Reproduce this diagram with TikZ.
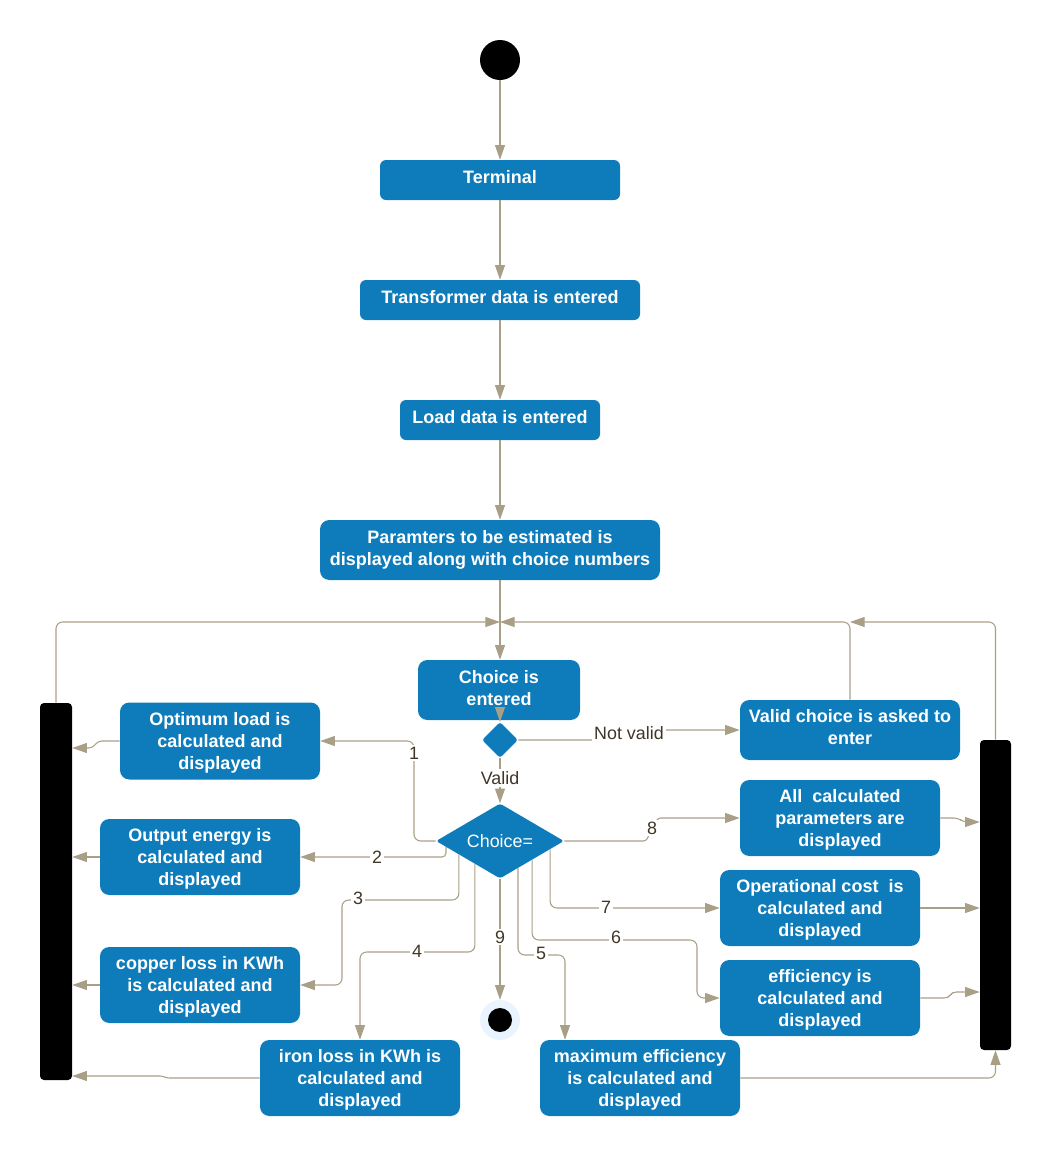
\documentclass[tikz,border=0pt]{standalone}
\usepackage{fontspec}
\setmainfont{Liberation Sans}
\usetikzlibrary{arrows.meta,shapes.geometric,calc}

\definecolor{boxblue}{RGB}{14,124,186}
\definecolor{wire}{RGB}{168,159,134}
\definecolor{labeltext}{RGB}{64,54,40}
\definecolor{haloblue}{RGB}{234,244,254}

\newcommand\actfont{\bfseries\fontsize{13.5}{16.5}\selectfont}
\newcommand\tagfont{\fontsize{13.4}{16.5}\selectfont}

\begin{document}
\begin{tikzpicture}[x=0.75pt,y=-0.75pt,
  every node/.style={inner sep=0pt},
  act/.style 2 args={rectangle, fill=boxblue, text=white, align=center,
    minimum width=#1*0.75pt, minimum height=#2*0.75pt,
    rounded corners=7pt, font=\actfont},
  thinact/.style={rounded corners=4.5pt},
  lift/.style={text depth=#1},
  syncbar/.style 2 args={rectangle, fill=black, minimum width=#1*0.75pt,
    minimum height=#2*0.75pt, rounded corners=3pt},
  conn/.style={draw=wire, line width=0.8pt, rounded corners=5pt,
    -{Triangle[length=11pt,width=7.5pt,fill=wire]}},
  tag/.style={fill=white, text=labeltext, font=\tagfont, inner sep=1.5pt}]

\useasboundingbox (0,0) rectangle (1051,1157);

% initial node
\node[circle, fill=black, minimum size=30pt] (start) at (500,60) {};

% main sequence
\node[act={240}{40}, thinact, lift=4.5pt] (term)  at (500,180) {Terminal};
\node[act={280}{40}, thinact, lift=4.5pt] (trans) at (500,300) {Transformer data is entered};
\node[act={200}{40}, thinact, lift=4.5pt] (load)  at (500,420) {Load data is entered};
\node[act={340}{60}] (param) at (490,550) {Paramters to be estimated is\\displayed along with choice numbers};
\node[act={162}{60}, lift=3pt] (chent) at (499,690) {Choice is\\entered};

% decisions
\node[diamond, fill=boxblue, minimum width=27pt, minimum height=27pt,
      rounded corners=2pt] (d1) at (500,740) {};
\node[diamond, aspect=1.7, fill=boxblue, text=white, font=\tagfont,
      minimum width=96pt, minimum height=56.25pt, rounded corners=2pt] (ch) at (500,841) {Choice=};

\node[act={220}{60}, lift=4pt] (valid) at (850,730) {Valid choice is asked to\\enter};

% result activities
\node[act={200}{77}, lift=0pt] (opt)  at (220,741) {Optimum load is\\calculated and\\displayed};
\node[act={200}{76}, lift=0pt] (out)  at (200,857) {Output energy is\\calculated and\\displayed};
\node[act={200}{76}, lift=0pt] (cop)  at (200,985) {copper loss in KWh\\is calculated and\\displayed};
\node[act={200}{76}, lift=0pt] (iron) at (360,1078) {iron loss in KWh is\\calculated and\\displayed};
\node[act={200}{76}, lift=0pt] (maxe) at (640,1078) {maximum efficiency\\is calculated and\\displayed};
\node[act={200}{76}, lift=0pt] (allc) at (840,818) {All~ calculated\\parameters are\\displayed};
\node[act={200}{76}, lift=0pt] (oper) at (820,908) {Operational cost~ is\\calculated and\\displayed};
\node[act={200}{76}, lift=0pt] (eff)  at (820,998) {efficiency is\\calculated and\\displayed};

% synchronisation bars
\node[syncbar={32}{377}] (lbar) at (56,891.5) {};
\node[syncbar={31}{310}] (rbar) at (995.5,895) {};

% final node
\node[circle, fill=haloblue, minimum size=30pt] (endn) at (500,1020) {};
\node[circle, fill=black, minimum size=18pt] (endcore) at (endn.center) {};

% junction above the choice entry
\coordinate (jl) at (500,622);
\coordinate (jr) at (valid.north |- jl);

% main flow
\draw[conn] (start) -- (term);
\draw[conn] (term) -- (trans);
\draw[conn] (trans) -- (load);
\draw[conn] (load.south) -- (load.south |- param.north);
\draw[conn] (load.south |- param.south) -- (load.south |- chent.north);
\draw[conn] (d1.north |- chent.south) -- (d1.north);

% loops back to the choice entry
\draw[conn] (lbar.north) |- (jl);
\draw[conn] (valid.north) |- (jl);
\draw[conn] (rbar.north) |- (jr);

% validity check
\draw[conn, rounded corners=2pt] (d1.east) -- (598,740) -- (660,730) -- (valid.west);
\node[tag] at (629,733) {Not valid};
\draw[conn] (d1.south) -- (ch.north);
\node[tag] at (500,778) {Valid};

% branch start points on the lower edges of the choice
\coordinate (p2) at ($(ch.west)!0.16!(ch.south)$);
\coordinate (p3) at ($(ch.west)!0.36!(ch.south)$);
\coordinate (p4) at ($(ch.west)!0.61!(ch.south)$);
\coordinate (p5) at ($(ch.south)!0.28!(ch.east)$);
\coordinate (p6) at ($(ch.south)!0.50!(ch.east)$);
\coordinate (p7) at ($(ch.south)!0.78!(ch.east)$);
\coordinate (k5) at (565,955);

% branches
\draw[conn] (ch.west) -- (414,841) |- (opt.east);
\node[tag] at (414,753) {1};
\draw[conn, rounded corners=3pt] (p2) |- (out.east);
\node[tag] at (377,857) {2};
\draw[conn] (p3) |- (342,900) |- (cop.east);
\node[tag] at (358,898) {3};
\draw[conn] (p4) |- (360,952) -- (iron.north);
\node[tag] at (417,951) {4};
\draw[conn] (ch.south) -- (endn.north);
\node[tag] at (500,937) {9};
\draw[conn] (p5) |- (k5) -- (k5 |- maxe.north);
\node[tag] at (541,953) {5};
\draw[conn] (p6) |- (697,940) |- (eff.west);
\node[tag] at (616,937) {6};
\draw[conn] (p7) |- (oper.west);
\node[tag] at (606,907) {7};
\draw[conn, rounded corners=2pt] (ch.east) -- (646,841) -- (658,818) -- (allc.west);
\node[tag] at (652,828) {8};

% results into the bars
\draw[conn, rounded corners=3pt] (opt.west) -- ++(-22,0) -- ++(-5,7) coordinate (s1) -- (s1 -| lbar.east);
\draw[conn] (out.west) -- (out.west -| lbar.east);
\draw[conn] (cop.west) -- (cop.west -| lbar.east);
\draw[conn, rounded corners=2pt] (iron.west) -- ++(-93,0) -- ++(-4,-2) coordinate (s2) -- (s2 -| lbar.east);
\draw[conn, rounded corners=3pt] (allc.east) -- ++(18,0) -- ++(5,4) coordinate (s3) -- (s3 -| rbar.west);
\draw[conn] (oper.east) -- (oper.east -| rbar.west);
\draw[conn, rounded corners=3pt] (eff.east) -- ++(28,0) -- ++(4,-6) coordinate (s4) -- (s4 -| rbar.west);
\draw[conn] (maxe.east) -| (rbar.south);

\end{tikzpicture}
\end{document}
